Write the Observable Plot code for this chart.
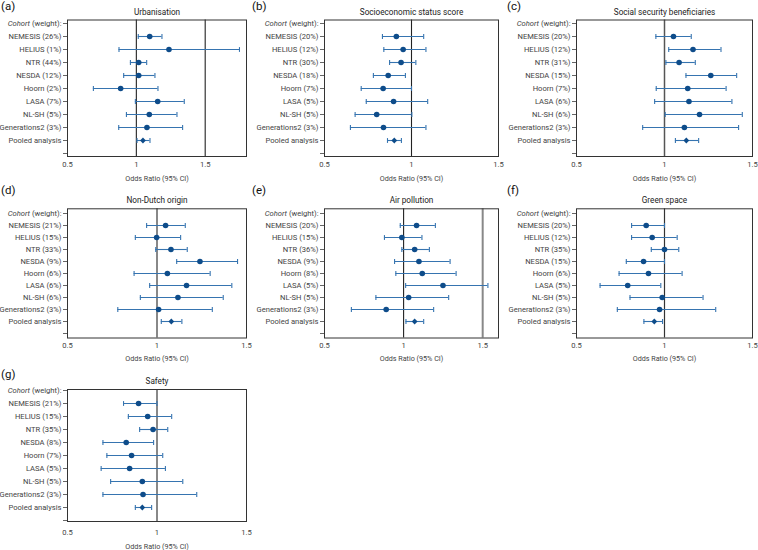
<!DOCTYPE html>
<html><head><meta charset="utf-8">
<script src="https://cdn.jsdelivr.net/npm/d3@7"></script>
<script src="https://cdn.jsdelivr.net/npm/@observablehq/plot@0.6"></script>
<style>
body{margin:0;background:#fff;}
#root{position:relative;width:758px;height:550px;overflow:hidden;font-family:Roboto,sans-serif;}
.panel{position:absolute;line-height:0;}
.letter{position:absolute;font-size:11.5px;color:#111;line-height:1;}
</style></head><body><div id="root"></div>
<script>
const cohorts = ["NEMESIS","HELIUS","NTR","NESDA","Hoorn","LASA","NL-SH","Generations2"];
const pooledLabel = "Pooled analysis";
const letters = ["(a)","(b)","(c)","(d)","(e)","(f)","(g)"];
const titles = ["Urbanisation","Socioeconomic status score","Social security beneficiaries","Non-Dutch origin","Air pollution","Green space","Safety"];
const xMax = [1.8,1.5,1.5,1.5,1.6,1.5,1.5];
const xTicks = [0.5,1,1.5];

// weights (%) per cohort
const wA = [26,1,44,12,2,7,5,3];
const wB = [20,12,30,18,7,5,5,3];
const wC = [20,12,31,15,7,6,6,3];
const wD = [21,15,33,9,6,6,6,3];
const wE = [20,15,36,9,8,5,5,3];
const wF = [20,12,35,15,6,5,5,3];
const wG = [21,15,35,8,7,5,5,3];

// odds ratios and 95% CI (8 cohorts + pooled)
const orA = [1.097,1.237,1.017,1.017,0.886,1.155,1.094,1.077,1.048];
const loA = [1.014,0.874,0.957,0.908,0.688,0.993,0.928,0.872,1.005];
const hiA = [1.186,1.749,1.075,1.135,1.157,1.348,1.295,1.336,1.099];

const orB = [0.913,0.952,0.940,0.866,0.837,0.897,0.800,0.839,0.901];
const loB = [0.833,0.841,0.874,0.781,0.711,0.740,0.676,0.649,0.862];
const hiB = [1.070,1.083,1.025,0.965,1.000,1.093,1.002,1.083,0.942];

const orC = [1.051,1.162,1.083,1.263,1.132,1.139,1.199,1.113,1.124];
const loC = [0.951,1.024,1.008,1.122,0.953,0.944,1.004,0.876,1.062];
const hiC = [1.152,1.321,1.175,1.410,1.350,1.383,1.442,1.421,1.194];

const orD = [1.048,0.998,1.078,1.240,1.058,1.165,1.117,1.009,1.080];
const loD = [0.942,0.879,0.993,1.110,0.872,0.959,0.907,0.781,1.024];
const hiD = [1.158,1.132,1.169,1.450,1.297,1.418,1.370,1.309,1.139];

const orE = [1.082,0.989,1.070,1.097,1.118,1.249,1.032,0.890,1.070];
const loE = [0.979,0.879,0.989,0.943,0.951,1.013,0.825,0.670,1.015];
const hiE = [1.201,1.116,1.163,1.294,1.332,1.533,1.285,1.190,1.127];

const orF = [0.896,0.930,1.000,0.881,0.909,0.791,0.987,0.972,0.942];
const loF = [0.813,0.813,0.925,0.783,0.742,0.634,0.804,0.732,0.883];
const hiF = [1.000,1.072,1.081,1.000,1.100,0.979,1.219,1.291,0.989];

const orG = [0.897,0.948,0.978,0.828,0.858,0.847,0.918,0.922,0.918];
const loG = [0.813,0.840,0.903,0.698,0.720,0.688,0.741,0.698,0.879];
const hiG = [1.000,1.082,1.060,0.981,1.032,1.047,1.144,1.222,0.970];

const weights = [wA,wB,wC,wD,wE,wF,wG];
const ors = [orA,orB,orC,orD,orE,orF,orG];
const los = [loA,loB,loC,loD,loE,loF,loG];
const his = [hiA,hiB,hiC,hiD,hiE,hiF,hiG];

// reference lines per panel
const refLines = [
  [{x:1,c:"#222",w:1.1},{x:1.5,c:"#222",w:1.1}],
  [{x:1,c:"#222",w:1.1}],
  [{x:1,c:"#555",w:1.5}],
  [{x:1,c:"#888",w:2}],
  [{x:1,c:"#222",w:1.1},{x:1.5,c:"#888",w:2}],
  [{x:1,c:"#333",w:1.2}],
  [{x:1,c:"#888",w:2}]
];

const cols = [
  {left:0, width:250, ml:67, mr:4, letterX:1},
  {left:253, width:250, ml:71, mr:5, letterX:252},
  {left:506, width:252, ml:70, mr:6, letterX:507}
];
const rowsL = [
  {top:0, height:185, frameTop:19.5, frameBottom:156, tickPad:5, titleDy:22, letterY:1},
  {top:185, height:180, frameTop:208.3, frameBottom:337.5, tickPad:5, titleDy:20.5, letterY:185},
  {top:365, height:185, frameTop:389, frameBottom:521, tickPad:8, titleDy:25, letterY:369}
];

const blue = "#3674b0", dark = "#0e4c8a";
const capSymbol = {draw(ctx, size){ const h = Math.sqrt(size/Math.PI); ctx.moveTo(0,-h); ctx.lineTo(0,h); }};

const root = document.getElementById("root");

for (let i = 0; i < 7; i++) {
  const col = cols[i % 3], row = rowsL[Math.floor(i / 3)];
  const labels = cohorts.map((c, j) => `${c} (${weights[i][j]}%)`).concat([pooledLabel]);
  const domain = ["Cohort (weight):", ...labels, " "];
  const data = labels.map((label, j) => ({label, or: ors[i][j], lo: los[i][j], hi: his[i][j], pooled: j === 8}));
  const caps = data.flatMap(d => [{label: d.label, x: d.lo}, {label: d.label, x: d.hi}]);

  const plot = Plot.plot({
    width: col.width,
    height: row.height,
    marginLeft: col.ml,
    marginRight: col.mr,
    marginTop: row.frameTop - row.top,
    marginBottom: row.top + row.height - row.frameBottom,
    style: {fontFamily: "Roboto, sans-serif", fontSize: "7.6px", color: "#444", background: "transparent", overflow: "visible"},
    x: {domain: [0.5, xMax[i]], label: null},
    y: {type: "point", domain, padding: 0, label: null},
    marks: [
      ...refLines[i].map(r => Plot.ruleX([r.x], {stroke: r.c, strokeWidth: r.w})),
      Plot.frame({stroke: "#333", strokeWidth: 1}),
      Plot.axisY({tickSize: 4, tickPadding: 2, stroke: "#666", label: null}),
      Plot.axisX({ticks: xTicks, tickSize: 0, tickPadding: row.tickPad, tickFormat: d => String(d), label: null}),
      Plot.ruleY(data, {y: "label", x1: "lo", x2: "hi", stroke: blue, strokeWidth: 1.1}),
      Plot.dot(caps, {x: "x", y: "label", symbol: capSymbol, r: 2.4, stroke: blue, fill: "none", strokeWidth: 1.1}),
      Plot.dot(data.filter(d => !d.pooled), {x: "or", y: "label", r: 2.8, fill: dark}),
      Plot.dot(data.filter(d => d.pooled), {x: "or", y: "label", symbol: "diamond2", r: 2.6, fill: dark}),
      Plot.text([titles[i]], {frameAnchor: "top", lineAnchor: "middle", dy: -8, fontSize: 8.2, fill: "#222"}),
      Plot.text(["Odds Ratio (95% CI)"], {frameAnchor: "bottom", lineAnchor: "middle", dy: row.titleDy, fontSize: 7.2, fill: "#444"})
    ]
  });
  plot.querySelectorAll("text").forEach(t => {
    if (t.textContent === "Cohort (weight):") {
      t.innerHTML = '<tspan font-style="italic">Cohort</tspan> (weight):';
    }
  });
  const div = document.createElement("div");
  div.className = "panel";
  div.style.left = col.left + "px";
  div.style.top = row.top + "px";
  div.appendChild(plot);
  root.appendChild(div);

  const lt = document.createElement("div");
  lt.className = "letter";
  lt.style.left = col.letterX + "px";
  lt.style.top = row.letterY + "px";
  lt.textContent = letters[i];
  root.appendChild(lt);
}
</script></body></html>
